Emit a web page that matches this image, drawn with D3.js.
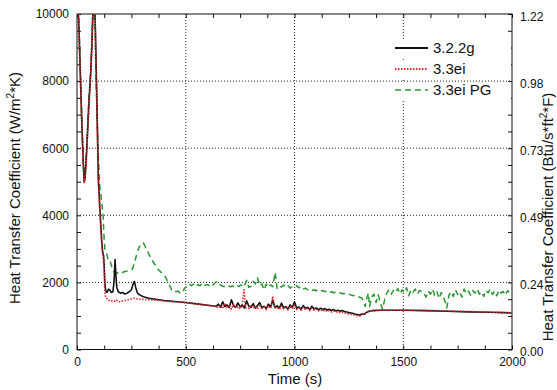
<!DOCTYPE html>
<html>
<head>
<meta charset="utf-8">
<script src="https://cdn.jsdelivr.net/npm/d3@7"></script>
<style>
  html, body { margin: 0; padding: 0; background: #fff; }
  svg { display: block; font-family: "Liberation Sans", Arial, Helvetica, sans-serif; }
</style>
</head>
<body>
<svg id="chart" width="557" height="390"></svg>
<script>
// ---- data: heat transfer coefficient (W/m^2*K) versus time (s) ----
const timeTicks = [0, 500, 1000, 1500, 2000];
const leftTicks = [0, 2000, 4000, 6000, 8000, 10000];
const siToEnglish = 1.22e-4; // W/m^2*K -> Btu/s*ft^2*F (as labelled on the right axis)

const seriesNames = ["3.2.2g", "3.3ei", "3.3ei PG"];

// 3.2.2g
const tBlack = [0,4,9,15,22,28,33,37,45,55,62,68,72,76,80,85,92,98,106,114,118,122,125,128,132,138,145,152,158,165,170,175,179,183,190,200,210,220,230,240,250,258,264,270,278,290,305,330,360,400,450,500,550,600,
  640,650,660,670,680,690,700,710,720,730,740,750,760,770,780,790,800,810,820,830,840,850,860,870,880,890,900,910,920,930,940,950,960,970,980,990,
  1000,1010,1020,1030,1040,1050,1060,1070,1080,1090,1100,1110,1120,1130,1140,1150,1160,1170,1180,1190,1200,1210,1220,1230,1240,1250,1260,1270,1280,1290,1300,1310,1320,1330,1340,1350,
  1360,1400,1500,1600,1700,1800,1900,2000];
const hBlack = [10800,10300,9600,8300,6800,5700,5000,5100,6000,7400,8100,9000,9800,10500,10700,9400,7200,5100,4100,3200,2900,2800,2500,2000,1750,1700,1800,1760,1700,1720,2000,2680,2200,1850,1720,1680,1700,1650,1680,1720,1780,1950,2030,1850,1680,1620,1570,1530,1500,1460,1430,1400,1360,1320,
  1290,1350,1260,1420,1280,1330,1250,1480,1300,1260,1390,1270,1320,1240,1450,1290,1260,1370,1230,1310,1400,1240,1290,1220,1350,1260,1470,1250,1300,1230,1380,1240,1280,1210,1330,1250,
  1420,1230,1270,1200,1310,1220,1260,1190,1290,1210,1240,1180,1230,1190,1220,1170,1200,1160,1190,1150,1170,1140,1160,1130,1120,1100,1090,1070,1050,1040,1020,1060,1050,1100,1130,1150,
  1160,1170,1170,1160,1140,1120,1110,1090];

// 3.3ei
const tRed = [0,4,9,15,22,28,33,37,45,55,62,68,72,76,80,85,92,98,106,114,118,122,125,128,132,140,150,160,170,180,190,200,215,230,245,260,275,290,310,340,380,420,470,520,570,620,
  640,650,660,670,680,690,700,710,720,730,740,750,760,768,775,790,800,810,820,830,840,850,860,870,880,890,900,910,920,930,940,950,960,970,980,990,
  1000,1010,1020,1030,1040,1050,1060,1070,1080,1090,1100,1110,1120,1130,1140,1150,1160,1170,1180,1190,1200,1210,1220,1230,1240,1250,1260,1270,1280,1290,1300,1310,1320,1330,1340,1350,
  1360,1400,1500,1600,1700,1800,1900,2000];
const hRed = [10900,10200,9500,8200,6700,5600,4950,5050,5900,7300,8100,9000,9900,10700,10800,9300,7100,5000,4000,3100,2850,2700,2300,1700,1550,1500,1440,1450,1430,1480,1430,1420,1460,1470,1500,1530,1510,1500,1490,1480,1460,1430,1410,1380,1340,1300,
  1280,1240,1300,1220,1380,1250,1290,1200,1340,1230,1280,1210,1350,1780,1250,1220,1330,1240,1280,1200,1350,1230,1270,1190,1300,1220,1580,1230,1260,1190,1300,1210,1250,1180,1290,1210,
  1330,1190,1240,1170,1260,1190,1220,1160,1230,1170,1200,1150,1190,1140,1180,1130,1160,1120,1150,1110,1130,1100,1110,1080,1080,1060,1050,1040,1020,1010,1000,1030,1060,1100,1140,1150,
  1165,1175,1175,1165,1150,1130,1115,1100];

// 3.3ei PG
const tGreen = [0,4,9,15,22,28,33,37,45,55,62,68,72,76,80,86,92,98,104,110,115,120,124,128,135,142,150,158,165,172,180,195,210,225,240,255,265,275,285,297,305,315,330,343,360,374,390,405,415,428,
  435,445,455,465,475,485,495,505,515,525,535,545,555,565,575,585,595,605,615,625,635,645,655,665,675,685,695,705,715,725,735,745,755,765,775,781,790,
  800,810,820,830,840,850,860,870,880,890,900,911,920,930,940,950,960,970,980,990,1000,1010,1020,1030,1040,1050,1060,1070,1080,1090,1100,1110,1120,1130,1140,1150,1160,1170,1180,1190,
  1200,1210,1220,1230,1240,1250,1260,1270,1280,1290,1300,1310,1320,1325,1330,1340,1345,1355,1365,1375,1385,1395,1405,1415,1425,1435,1445,1455,1465,1475,1485,1495,
  1505,1515,1525,1535,1545,1555,1565,1575,1585,1595,1605,1615,1625,1635,1645,1655,1665,1675,1685,1695,1700,1710,1720,1730,1740,1750,1760,1770,1780,1790,
  1800,1810,1820,1830,1840,1850,1860,1870,1880,1890,1900,1910,1920,1930,1940,1950,1960,1970,1980,1990,2000];
const hGreen = [10800,10300,9700,8400,6900,5800,5100,5150,6100,7500,8200,9100,9900,10700,10800,8500,7000,5800,4900,4600,4300,4000,3400,3000,2900,2700,2700,2500,2400,2300,2300,2250,2300,2330,2350,2400,2600,2850,3050,3150,3180,3050,2850,2680,2520,2380,2280,2180,2050,1880,
  1780,1790,1720,1740,1680,1700,1830,1880,1960,1900,1950,1880,1930,1900,1960,1890,1940,1910,1970,1920,1990,2030,1940,1900,1880,1860,1900,1870,1890,1850,1900,1880,1930,1860,1980,2060,1850,
  1880,2030,1950,2130,1900,1960,1780,1950,1850,1930,1870,2300,1820,1900,1860,1920,1850,1900,1830,1880,1860,1910,1840,1870,1800,1830,1780,1800,1760,1780,1750,1780,1740,1760,1720,1740,1700,1720,1690,1710,
  1680,1690,1660,1670,1640,1650,1620,1610,1600,1580,1560,1530,1400,1280,1480,1680,1280,1560,1650,1400,1630,1380,1200,1500,1690,1780,1650,1760,1700,1820,1660,1780,
  1690,1840,1600,1780,1710,1800,1650,1760,1720,1680,1560,1740,1650,1800,1600,1720,1520,1700,1560,1380,1240,1620,1720,1580,1780,1640,1720,1560,1800,1660,
  1740,1620,1760,1680,1800,1650,1720,1580,1760,1690,1800,1640,1740,1600,1770,1680,1730,1620,1760,1660,1640];

// ---- layout ----
const svg = d3.select("#chart");
const plot = { left: 77, right: 512, top: 14, bottom: 349.5 };

const x = d3.scaleLinear().domain([0, 2000]).range([plot.left, plot.right]);
const y = d3.scaleLinear().domain([0, 10000]).range([plot.bottom, plot.top]);
const yRight = d3.scaleLinear().domain([0, 10000 * siToEnglish]).range([plot.bottom, plot.top]);

svg.append("defs").append("clipPath").attr("id", "plotClip")
  .append("rect")
  .attr("x", plot.left).attr("y", plot.top)
  .attr("width", plot.right - plot.left).attr("height", plot.bottom - plot.top);

// dotted grid
const grid = svg.append("g").attr("class", "grid")
  .attr("stroke", "#222").attr("stroke-width", 1).attr("stroke-dasharray", "1,2");
timeTicks.filter(d => d > 0 && d < 2000).forEach(d => {
  grid.append("line").attr("x1", x(d)).attr("x2", x(d)).attr("y1", plot.top).attr("y2", plot.bottom);
});
leftTicks.filter(d => d > 0 && d < 10000).forEach(d => {
  grid.append("line").attr("x1", plot.left).attr("x2", plot.right).attr("y1", y(d)).attr("y2", y(d));
});

// axes with inward ticks
const minorTime = d3.range(0, 2001, 125);
const minorH = d3.range(0, 10001, 500);

const bottomAxis = d3.axisBottom(x).tickValues(minorTime).tickSize(-4).tickPadding(8)
  .tickFormat(d => timeTicks.includes(d) ? d : "");
const topAxis = d3.axisTop(x).tickValues(minorTime).tickSize(-4).tickFormat("");
const leftAxis = d3.axisLeft(y).tickValues(minorH).tickSize(-4).tickPadding(8)
  .tickFormat(d => leftTicks.includes(d) ? d : "");
const rightAxis = d3.axisRight(yRight).tickValues(minorH.map(d => d * siToEnglish)).tickSize(-4).tickPadding(8)
  .tickFormat(d => leftTicks.some(v => Math.abs(v * siToEnglish - d) < 1e-9) ? d3.format(".2f")(d) : "");

function styleAxis(g) {
  g.select(".domain").remove();
  g.selectAll(".tick line").attr("stroke", "#111");
  g.selectAll(".tick text").attr("fill", "#111").attr("font-size", 12)
    .attr("font-family", "\"Liberation Sans\", Arial, sans-serif");
}
svg.append("g").attr("transform", `translate(0,${plot.bottom})`).call(bottomAxis).call(styleAxis);
svg.append("g").attr("transform", `translate(0,${plot.top})`).call(topAxis).call(styleAxis);
svg.append("g").attr("transform", `translate(${plot.left},0)`).call(leftAxis).call(styleAxis);
const rAx = svg.append("g").attr("transform", `translate(${plot.right},0)`).call(rightAxis).call(styleAxis);
rAx.selectAll(".tick text").attr("dy", "0.5em");

// frame
svg.append("rect")
  .attr("x", plot.left).attr("y", plot.top)
  .attr("width", plot.right - plot.left).attr("height", plot.bottom - plot.top)
  .attr("fill", "none").attr("stroke", "#111").attr("stroke-width", 1);

// curves
const line = d3.line().x(d => x(d[0])).y(d => y(d[1]));
const zip = (ts, vs) => ts.map((t, i) => [t, vs[i]]);

const styles = [
  { data: zip(tGreen, hGreen), color: "#2b9632", dash: "6,4", width: 1.5 },
  { data: zip(tBlack, hBlack), color: "#111111", dash: null, width: 1.6 },
  { data: zip(tRed, hRed), color: "#e3262f", dash: "1.5,1.5", width: 1.6 }
];
const curves = svg.append("g").attr("clip-path", "url(#plotClip)");
styles.forEach(s => {
  curves.append("path")
    .attr("d", line(s.data))
    .attr("fill", "none")
    .attr("stroke", s.color)
    .attr("stroke-width", s.width)
    .attr("stroke-linejoin", "round")
    .attr("stroke-dasharray", s.dash);
});

// legend
const legendItems = [
  { name: seriesNames[0], color: "#111111", dash: null, width: 2 },
  { name: seriesNames[1], color: "#e3262f", dash: "1.5,1.5", width: 1.8 },
  { name: seriesNames[2], color: "#2b9632", dash: "6,4", width: 1.6 }
];
const legend = svg.append("g").attr("transform", "translate(395,48)");
legendItems.forEach((d, i) => {
  const gy = i * 21;
  legend.append("rect").attr("x", -2).attr("y", gy - 8).attr("width", 118).attr("height", 17).attr("fill", "#fff");
  legend.append("line").attr("x1", 0).attr("x2", 33).attr("y1", gy).attr("y2", gy)
    .attr("stroke", d.color).attr("stroke-width", d.width).attr("stroke-dasharray", d.dash);
  legend.append("text").attr("x", 38).attr("y", gy + 5)
    .attr("font-size", 15).attr("fill", "#111").text(d.name);
});

// axis titles
svg.append("text")
  .attr("x", 295).attr("y", 384)
  .attr("text-anchor", "middle").attr("font-size", 15).attr("fill", "#111")
  .text("Time (s)");

const leftTitle = svg.append("text")
  .attr("transform", "translate(20,188) rotate(-90)")
  .attr("text-anchor", "middle").attr("font-size", 15).attr("fill", "#111");
leftTitle.append("tspan").text("Heat Transfer Coefficient (W/m");
leftTitle.append("tspan").attr("font-size", 10).attr("dy", -6).text("2");
leftTitle.append("tspan").attr("dy", 6).text("*K)");

const rightTitle = svg.append("text")
  .attr("transform", "translate(553,217) rotate(-90)")
  .attr("text-anchor", "middle").attr("font-size", 15).attr("fill", "#111");
rightTitle.append("tspan").text("Heat Transfer Coefficient (Btu/s*ft");
rightTitle.append("tspan").attr("font-size", 10).attr("dy", -6).text("2");
rightTitle.append("tspan").attr("dy", 6).text("*F)");
</script>
</body>
</html>
